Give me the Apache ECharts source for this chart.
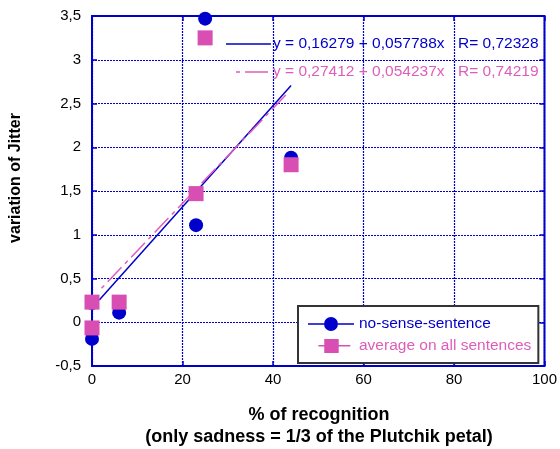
<!DOCTYPE html>
<html>
<head>
<meta charset="utf-8">
<script src="https://cdn.jsdelivr.net/npm/echarts@6/dist/echarts.min.js"></script>
<style>
  html, body { margin: 0; padding: 0; background: #ffffff; }
  #chart { width: 560px; height: 449px; }
</style>
</head>
<body>
<div id="chart"></div>
<script>
// Recognition rate (%) against variation of jitter
const noSenseX = [0, 0, 6, 23, 25, 44];
const noSenseY = [-0.19, 0.22, 0.11, 1.11, 3.47, 1.88];
const averageX = [0, 0, 6, 23, 25, 44];
const averageY = [0.23, -0.065, 0.23, 1.47, 3.25, 1.80];

// Linear fits: intercept, slope, R, and the x span each fit line covers
const noSenseFit = [0.16279, 0.057788, 0.72328];
const averageFit = [0.27412, 0.054237, 0.74219];
const noSenseFitSpan = [1.6, 44];
const averageFitSpan = [2.1, 43];

const xTicks = [0, 20, 40, 60, 80, 100];
const yTicks = [-0.5, 0, 0.5, 1, 1.5, 2, 2.5, 3, 3.5];

const BLUE = '#0000CC';
const PINK = '#D94EB3';
const PINK_TEXT = '#DE5DBA';
const FONT = '"Liberation Sans", Arial, Helvetica, sans-serif';

const comma = v => String(v).replace('.', ',');
const pairs = (xs, ys) => xs.map((x, i) => [x, ys[i]]);
const fitLine = (fit, span) => span.map(x => [x, fit[0] + fit[1] * x]);
const fitLabel = fit => 'y = ' + comma(fit[0]) + ' + ' + comma(fit[1]) + 'x';

// legend icons: line with a marker in the middle
const circleIcon = 'path://M0,6.3L16,6.3L16,7.7L0,7.7Z M30,6.3L46,6.3L46,7.7L30,7.7Z M16,7A7,7 0 1 1 30,7A7,7 0 1 1 16,7Z';
const squareIcon = 'path://M0,0L0,0Z M46,14L46,14Z M10,6.3L16,6.3L16,7.7L10,7.7Z M31,6.3L43,6.3L43,7.7L31,7.7Z M16,0L31,0L31,14.5L16,14.5Z';

const chart = echarts.init(document.getElementById('chart'), null, { renderer: 'canvas' });

const tickStyle = { show: true, inside: true, length: 5, lineStyle: { color: BLUE, width: 1.5 } };
const hiddenLine = { show: false, onZero: false };

chart.setOption({
  animation: false,
  backgroundColor: '#ffffff',
  textStyle: { fontFamily: FONT },
  grid: {
    left: 92, right: 14, top: 16, bottom: 83,
    show: true, borderColor: BLUE, borderWidth: 2, backgroundColor: 'transparent'
  },
  xAxis: [{
    type: 'value', min: xTicks[0], max: xTicks[xTicks.length - 1], interval: 20,
    axisLine: hiddenLine, axisTick: tickStyle,
    splitLine: { show: true, lineStyle: { color: BLUE, width: 1.2, type: [2, 1] } },
    axisLabel: { color: '#000', fontSize: 15, fontFamily: FONT, margin: 6, formatter: comma }
  }, {
    type: 'value', position: 'top', min: xTicks[0], max: xTicks[xTicks.length - 1], interval: 20,
    axisLine: hiddenLine, axisLabel: { show: false }, splitLine: { show: false }, axisTick: tickStyle
  }],
  yAxis: [{
    type: 'value', min: yTicks[0], max: yTicks[yTicks.length - 1], interval: 0.5,
    axisLine: hiddenLine, axisTick: tickStyle,
    splitLine: { show: true, lineStyle: { color: BLUE, width: 1.2, type: [2, 1] } },
    axisLabel: { color: '#000', fontSize: 15, fontFamily: FONT, margin: 11, formatter: comma }
  }, {
    type: 'value', position: 'right', min: yTicks[0], max: yTicks[yTicks.length - 1], interval: 0.5,
    axisLine: hiddenLine, axisLabel: { show: false }, splitLine: { show: false }, axisTick: tickStyle
  }],
  legend: {
    orient: 'vertical',
    left: 298, top: 306,
    padding: [10, 7, 9, 10],
    itemGap: 6,
    itemWidth: 46, itemHeight: 14,
    backgroundColor: '#ffffff',
    borderColor: '#333333', borderWidth: 2, borderRadius: 0,
    textStyle: { fontSize: 15.5, fontFamily: FONT, lineHeight: 14 },
    data: [
      { name: 'no-sense-sentence', icon: circleIcon, itemStyle: { color: BLUE }, textStyle: { color: BLUE } },
      { name: 'average on all sentences', icon: squareIcon, itemStyle: { color: PINK }, textStyle: { color: PINK_TEXT } }
    ]
  },
  graphic: [
    { type: 'text', x: 319, y: 404, style: {
        text: '% of recognition\n(only sadness = 1/3 of the Plutchik petal)',
        font: 'bold 18px ' + FONT, fill: '#000', align: 'center', lineHeight: 22 }, z: 10 },
    { type: 'text', x: 16, y: 178, rotation: Math.PI / 2, style: {
        text: 'variation of Jitter', font: 'bold 16px ' + FONT, fill: '#000',
        align: 'center', verticalAlign: 'middle' }, z: 10 },
    // fit annotations
    { type: 'line', shape: { x1: 226, y1: 44, x2: 271, y2: 44 }, style: { stroke: BLUE, lineWidth: 1.5 }, z: 10 },
    { type: 'text', x: 273, y: 44, style: { text: fitLabel(noSenseFit), font: '15.5px ' + FONT, fill: BLUE, verticalAlign: 'middle' }, z: 10 },
    { type: 'text', x: 458, y: 44, style: { text: 'R= ' + comma(noSenseFit[2]), font: '15.5px ' + FONT, fill: BLUE, verticalAlign: 'middle' }, z: 10 },
    { type: 'line', shape: { x1: 236, y1: 72, x2: 268, y2: 72 }, style: { stroke: PINK_TEXT, lineWidth: 1.5, lineDash: [4, 5, 23, 100] }, z: 10 },
    { type: 'text', x: 273, y: 72, style: { text: fitLabel(averageFit), font: '15.5px ' + FONT, fill: PINK_TEXT, verticalAlign: 'middle' }, z: 10 },
    { type: 'text', x: 458, y: 72, style: { text: 'R= ' + comma(averageFit[2]), font: '15.5px ' + FONT, fill: PINK_TEXT, verticalAlign: 'middle' }, z: 10 }
  ],
  series: [
    {
      name: 'no-sense-sentence fit', type: 'line', data: fitLine(noSenseFit, noSenseFitSpan),
      symbol: 'none', lineStyle: { color: BLUE, width: 1.5 }, z: 2, silent: true
    },
    {
      name: 'average fit', type: 'line', data: fitLine(averageFit, averageFitSpan),
      symbol: 'none', lineStyle: { color: PINK_TEXT, width: 1.5, type: [4, 5, 20, 5] }, z: 2, silent: true
    },
    {
      name: 'no-sense-sentence', type: 'scatter', data: pairs(noSenseX, noSenseY),
      symbol: 'circle', symbolSize: 14, itemStyle: { color: BLUE, opacity: 1 }, z: 3
    },
    {
      name: 'average on all sentences', type: 'scatter', data: pairs(averageX, averageY),
      symbol: 'rect', symbolSize: 15, itemStyle: { color: PINK, opacity: 1 }, z: 4
    }
  ]
});
</script>
</body>
</html>
